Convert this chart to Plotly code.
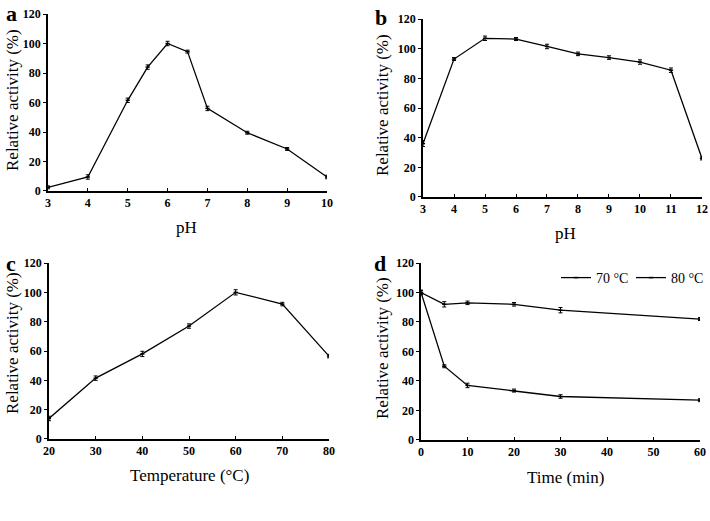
import plotly.graph_objects as go
from plotly.subplots import make_subplots

# a: pH optimum
ph_a = [3, 4, 5, 5.5, 6, 6.5, 7, 8, 9, 10]
act_a = [2.5, 9.5, 61.5, 84, 100, 94.5, 56, 39.5, 28.5, 9.5]
err_a = [1, 1.5, 1.5, 1.5, 1.5, 1, 1.5, 1, 1, 1.2]

# b: pH stability
ph_b = [3, 4, 5, 6, 7, 8, 9, 10, 11, 12]
act_b = [36, 93, 107, 106.5, 101.5, 96.5, 94, 91, 85.5, 26]
err_b = [2, 1, 1.5, 1, 1.5, 1.2, 1.2, 1.5, 1.5, 1]

# c: temperature optimum
temp_c = [20, 30, 40, 50, 60, 70, 80]
act_c = [14, 41.5, 58, 77, 100, 92, 56.5]
err_c = [1.5, 1.5, 1.8, 1.5, 1.8, 1.2, 1.2]

# d: thermostability
time_d = [0, 5, 10, 20, 30, 60]
act_70 = [100, 92, 93, 92, 88, 82]
err_70 = [1.5, 1.8, 1.2, 1.2, 1.8, 1]
act_80 = [100, 50, 37, 33.5, 29.5, 27]
err_80 = [1.5, 1, 1.5, 1, 1.2, 1]

SERIF = "Liberation Serif"
TICKFONT = dict(family=SERIF, size=12, color="black", weight="bold")
TITLEFONT = dict(family=SERIF, size=17, color="black")
W, H = 710, 521

fig = make_subplots(rows=2, cols=2)


def add_curve(x, y, err, row, col, name=None):
    fig.add_trace(go.Scatter(
        x=x, y=y, mode="lines+markers", name=name,
        showlegend=name is not None,
        line=dict(color="black", width=1.3),
        marker=dict(color="black", size=3, symbol="line-ew-open",
                    line=dict(color="black", width=1.5)),
        error_y=dict(type="data", array=err, visible=True,
                     color="black", thickness=1, width=2),
    ), row=row, col=col)


add_curve(ph_a, act_a, err_a, 1, 1)
add_curve(ph_b, act_b, err_b, 1, 2)
add_curve(temp_c, act_c, err_c, 2, 1)
add_curve(time_d, act_70, err_70, 2, 2, "70 °C")
add_curve(time_d, act_80, err_80, 2, 2, "80 °C")

domains = {
    (1, 1): ([0.0676, 0.4606], [0.6334, 0.9731]),
    (1, 2): ([0.5958, 0.9887], [0.6219, 0.9635]),
    (2, 1): ([0.0690, 0.4634], [0.1574, 0.4952]),
    (2, 2): ([0.5930, 0.9859], [0.1555, 0.4952]),
}
xsetup = {
    (1, 1): ([3, 10], [3, 4, 5, 6, 7, 8, 9, 10]),
    (1, 2): ([3, 12], list(range(3, 13))),
    (2, 1): ([20, 80], [20, 30, 40, 50, 60, 70, 80]),
    (2, 2): ([0, 60], [0, 10, 20, 30, 40, 50, 60]),
}

for (r, c), (xd, yd) in domains.items():
    xr, xt = xsetup[(r, c)]
    fig.update_xaxes(domain=xd, range=xr, tickvals=xt, ticks="inside", ticklen=3,
                     tickwidth=1, tickcolor="black", showline=True, linecolor="black",
                     linewidth=1.5, showgrid=False, zeroline=False, tickfont=TICKFONT,
                     automargin=False, row=r, col=c)
    fig.update_yaxes(domain=yd, range=[0, 120], tickvals=[0, 20, 40, 60, 80, 100, 120],
                     ticks="outside", ticklen=3, tickwidth=1, tickcolor="black",
                     showline=True, linecolor="black", linewidth=1.5, showgrid=False,
                     zeroline=False, tickfont=TICKFONT, automargin=False,
                     row=r, col=c)

# axis titles placed by pixel position (x, y, angle)
titles = [
    ("Relative activity (%)", 12, 100, -90),
    ("pH", 186, 228, 0),
    ("Relative activity (%)", 382, 105, -90),
    ("pH", 565, 233, 0),
    ("Relative activity (%)", 12, 343, -90),
    ("Temperature (°C)", 190, 475, 0),
    ("Relative activity (%)", 382, 348, -90),
    ("Time (min)", 565, 477, 0),
]
for txt, tx, ty, ang in titles:
    fig.add_annotation(text=txt, x=tx / W, y=1 - ty / H, xref="paper", yref="paper",
                       showarrow=False, xanchor="center", yanchor="middle",
                       textangle=ang, font=TITLEFONT)

# panel letters
letters = [("a", 12, 14), ("b", 381, 17), ("c", 11, 263), ("d", 380, 263)]
for txt, px_, py_ in letters:
    fig.add_annotation(text=txt, x=px_ / W, y=1 - py_ / H, xref="paper", yref="paper",
                       showarrow=False, xanchor="center", yanchor="middle",
                       font=dict(family=SERIF, size=22, color="black", weight="bold"))

fig.update_layout(
    width=W, height=H, margin=dict(l=0, r=0, t=0, b=0, autoexpand=False),
    plot_bgcolor="white", paper_bgcolor="white",
    legend=dict(orientation="h", x=556 / W, y=1 - 278 / H, xanchor="left", yanchor="middle",
                font=dict(family=SERIF, size=14, color="black"),
                itemwidth=30, entrywidth=30, bgcolor="rgba(0,0,0,0)"),
)

# drop the browser's default 8px body margin so the figure sits at (0, 0)
fig.write_html("out.html", config={"displayModeBar": False},
               post_script="document.body.style.margin='0';")
